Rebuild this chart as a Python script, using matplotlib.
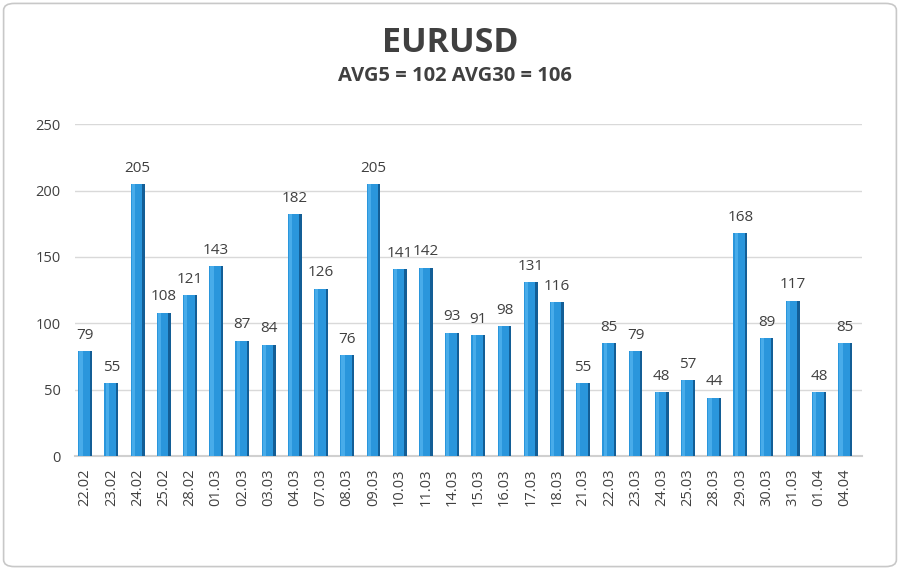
import matplotlib
matplotlib.use("Agg")
import matplotlib.pyplot as plt
from matplotlib.patches import FancyBboxPatch
import numpy as np

dates = ["22.02", "23.02", "24.02", "25.02", "28.02", "01.03", "02.03", "03.03",
         "04.03", "07.03", "08.03", "09.03", "10.03", "11.03", "14.03", "15.03",
         "16.03", "17.03", "18.03", "21.03", "22.03", "23.03", "24.03", "25.03",
         "28.03", "29.03", "30.03", "31.03", "01.04", "04.04"]
values = [79, 55, 205, 108, 121, 143, 87, 84, 182, 126, 76, 205, 141, 142, 93,
          91, 98, 131, 116, 55, 85, 79, 48, 57, 44, 168, 89, 117, 48, 85]
yticks = [0, 50, 100, 150, 200, 250]
title = "EURUSD"
subtitle = "AVG5 = 102 AVG30 = 106"

plt.rcParams['font.family'] = ['Open Sans', 'DejaVu Sans']
text_color = "#404040"

fig = plt.figure(figsize=(9, 5.7), dpi=100)
fig.patch.set_facecolor("white")
border = FancyBboxPatch((0.004, 0.006), 0.992, 0.988, boxstyle="round,pad=0,rounding_size=0.012",
                        transform=fig.transFigure, fill=False, edgecolor="#c8c8c8", linewidth=1.2)
fig.patches.append(border)

ax = fig.add_axes([0.083, 0.2, 0.875, 0.582])
x = np.arange(len(values))
w = 0.44
side = 0.09
ax.bar(x - side / 2, values, width=w, color="#2a96dc", zorder=3, linewidth=0)
ax.bar(x + w / 2, values, width=side, color="#135e96", zorder=3, linewidth=0)
ax.bar(x - w / 2 + 0.06, values, width=0.12, color="#48acea", zorder=4, linewidth=0)

for xi, v in zip(x, values):
    ax.annotate(str(v), (xi, v), xytext=(0, 6), textcoords="offset points",
                ha="center", va="bottom", fontsize=11, color=text_color)

ax.set_ylim(0, 250)
ax.set_xlim(-0.4, len(values) - 0.35)
ax.set_yticks(yticks)
ax.set_yticklabels([str(t) for t in yticks], fontsize=10.5, color=text_color)
ax.set_xticks(x)
ax.set_xticklabels(dates, rotation=90, fontsize=10.5, color=text_color)
ax.tick_params(axis="both", length=0)
ax.tick_params(axis="x", pad=9)
ax.tick_params(axis="y", pad=10)
ax.grid(axis="y", color="#d9d9d9", linewidth=1, zorder=0)
for s in ["top", "right", "left"]:
    ax.spines[s].set_visible(False)
ax.spines["bottom"].set_color("#d0d0d0")
ax.spines["bottom"].set_linewidth(1.5)

fig.text(0.5, 0.925, title, ha="center", va="center", fontsize=24.5, fontweight="bold", color=text_color)
fig.text(0.505, 0.866, subtitle, ha="center", va="center", fontsize=14.5, fontweight="bold", color=text_color)

fig.savefig("out.png", dpi=100)
